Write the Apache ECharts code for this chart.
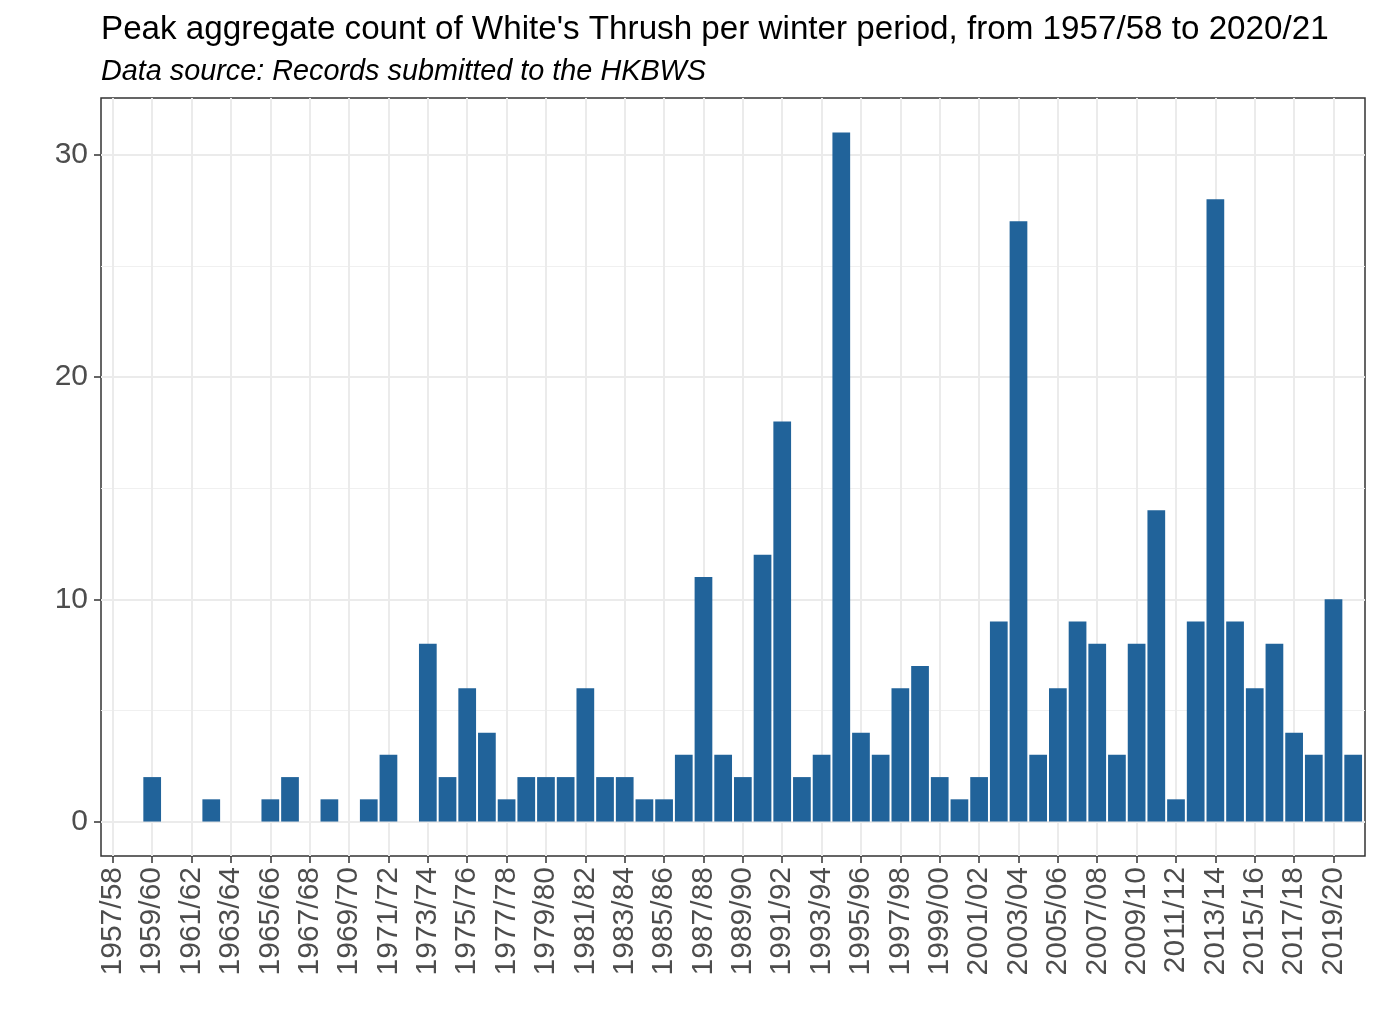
<!DOCTYPE html>
<html><head><meta charset="utf-8">
<script src="https://cdn.jsdelivr.net/npm/echarts@6/dist/echarts.min.js"></script>
<style>html,body{margin:0;padding:0;background:#fff}#c{width:1379px;height:1034px}</style>
</head><body><div id="c"></div>
<script>
const categories = [
  "1957/58","1958/59","1959/60","1960/61","1961/62","1962/63","1963/64","1964/65",
  "1965/66","1966/67","1967/68","1968/69","1969/70","1970/71","1971/72","1972/73",
  "1973/74","1974/75","1975/76","1976/77","1977/78","1978/79","1979/80","1980/81",
  "1981/82","1982/83","1983/84","1984/85","1985/86","1986/87","1987/88","1988/89",
  "1989/90","1990/91","1991/92","1992/93","1993/94","1994/95","1995/96","1996/97",
  "1997/98","1998/99","1999/00","2000/01","2001/02","2002/03","2003/04","2004/05",
  "2005/06","2006/07","2007/08","2008/09","2009/10","2010/11","2011/12","2012/13",
  "2013/14","2014/15","2015/16","2016/17","2017/18","2018/19","2019/20","2020/21"
];
const peakCounts = [
  0,0,2,0,0,1,0,0,
  1,2,0,1,0,1,3,0,
  8,2,6,4,1,2,2,2,
  6,2,2,1,1,3,11,3,
  2,12,18,2,3,31,4,3,
  6,7,2,1,2,9,27,3,
  6,9,8,3,8,14,1,9,
  28,9,6,8,4,3,10,3
];
const yMajorTicks = [0, 10, 20, 30];
const yMinorTicks = [5, 15, 25];
const titleText = "Peak aggregate count of White's Thrush per winter period, from 1957/58 to 2020/21";
const subtitleText = "Data source: Records submitted to the HKBWS";

const xTickIdx = categories.map((c, i) => i).filter(i => i % 2 === 0);
const font = "'Liberation Sans', Arial, sans-serif";
const yMax = Math.max.apply(null, peakCounts);
const yPad = yMax * 0.05;

const chart = echarts.init(document.getElementById('c'), null, { renderer: 'canvas' });
chart.setOption({
  animation: false,
  backgroundColor: '#ffffff',
  title: [
    { text: titleText, left: 101, top: 13, padding: 0,
      textStyle: { fontFamily: font, fontSize: 33.2, fontWeight: 'normal', color: '#000' } },
    { text: subtitleText, left: 101, top: 57, padding: 0,
      textStyle: { fontFamily: font, fontSize: 28.8, fontStyle: 'italic', fontWeight: 'normal', color: '#000' } }
  ],
  grid: { left: 101, right: 14, top: 98, bottom: 178, show: true, borderColor: '#333', borderWidth: 1.5, backgroundColor: 'transparent' },
  xAxis: {
    type: 'value', min: -0.6, max: categories.length - 1 + 0.6,
    axisLine: { show: false, onZero: false },
    axisTick: { show: true, length: 7, lineStyle: { color: '#333', width: 1.5 }, customValues: xTickIdx },
    axisLabel: { customValues: xTickIdx, rotate: 90, margin: 11, formatter: v => categories[v],
      color: '#4d4d4d', fontSize: 30, fontFamily: font },
    splitLine: { show: true, lineStyle: { color: '#ebebeb', width: 2 } }
  },
  yAxis: [
    {
      type: 'value', min: -yPad, max: yMax + yPad,
      axisLine: { show: false, onZero: false },
      axisTick: { show: true, length: 7, lineStyle: { color: '#333', width: 1.5 }, customValues: yMajorTicks },
      axisLabel: { customValues: yMajorTicks, margin: 13, color: '#4d4d4d', fontSize: 30, fontFamily: font },
      splitLine: { show: true, lineStyle: { color: '#ebebeb', width: 2 } }
    },
    {
      type: 'value', min: -yPad, max: yMax + yPad, position: 'right',
      axisLine: { show: false, onZero: false },
      axisTick: { show: false, customValues: yMinorTicks },
      axisLabel: { show: false, customValues: yMinorTicks },
      splitLine: { show: true, lineStyle: { color: '#f0f0f0', width: 1 } }
    }
  ],
  series: [{
    type: 'bar', yAxisIndex: 0,
    data: peakCounts.map((v, i) => [i, v]),
    barWidth: '90%',
    itemStyle: { color: '#21639a' }
  }]
});
</script></body></html>
